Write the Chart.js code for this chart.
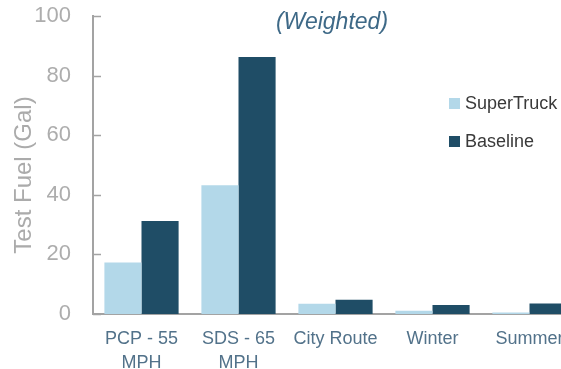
<!DOCTYPE html>
<html>
<head>
<meta charset="utf-8">
<script src="https://cdn.jsdelivr.net/npm/chart.js@4/dist/chart.umd.min.js"></script>
<style>
  html, body { margin: 0; padding: 0; background: #ffffff; overflow: hidden; }
  #wrap { width: 578px; height: 369px; }
</style>
</head>
<body>
<div id="wrap"><canvas id="c" width="578" height="369"></canvas></div>
<script>
// Test cycles and fuel used per cycle (gallons)
const categories = [['PCP - 55', 'MPH'], ['SDS - 65', 'MPH'], 'City Route', 'Winter', 'Summer'];
const superTruck = [17.3, 43.2, 3.4, 1.1, 0.5];
const baseline = [31.2, 86.2, 4.8, 3.0, 3.5];
const yTicks = [0, 20, 40, 60, 80, 100];

const FONT = '"Liberation Sans", Arial, sans-serif';
const AXIS_GRAY = '#a3a3a3';

// Subtitle, rotated y-axis title, inward tick marks and a free-floating legend
const decorations = {
  id: 'decorations',
  afterDraw(chart) {
    const ctx = chart.ctx;
    const area = chart.chartArea;
    const y = chart.scales.y;
    ctx.save();

    // inward ticks on the y axis
    ctx.strokeStyle = AXIS_GRAY;
    ctx.lineWidth = 1.5;
    yTicks.forEach(v => {
      const py = Math.round(y.getPixelForValue(v)) + 0.5;
      ctx.beginPath();
      ctx.moveTo(area.left, py);
      ctx.lineTo(area.left + 8, py);
      ctx.stroke();
    });

    // subtitle
    ctx.fillStyle = '#3e6987';
    ctx.font = 'italic 23px ' + FONT;
    ctx.textAlign = 'center';
    ctx.textBaseline = 'middle';
    ctx.fillText('(Weighted)', 332, 23);

    // y axis title
    ctx.save();
    ctx.translate(24, 175);
    ctx.rotate(-Math.PI / 2);
    ctx.fillStyle = '#ababab';
    ctx.font = '24px ' + FONT;
    ctx.fillText('Test Fuel (Gal)', 0, 0);
    ctx.restore();

    // legend
    ctx.font = '18px ' + FONT;
    ctx.textAlign = 'left';
    chart.data.datasets.forEach((ds, i) => {
      const ly = 103 + i * 38;
      ctx.fillStyle = ds.backgroundColor;
      ctx.fillRect(449, ly - 5, 11, 11);
      ctx.fillStyle = '#3a3a3a';
      ctx.fillText(ds.label, 465, ly + 1);
    });

    ctx.restore();
  }
};

new Chart(document.getElementById('c'), {
  type: 'bar',
  data: {
    labels: categories,
    datasets: [
      { label: 'SuperTruck', data: superTruck, backgroundColor: '#b3d8e9' },
      { label: 'Baseline', data: baseline, backgroundColor: '#1f4d66' }
    ]
  },
  options: {
    responsive: false,
    animation: false,
    devicePixelRatio: 1,
    layout: { padding: { top: 16, right: 0, left: 0, bottom: 0 } },
    categoryPercentage: 0.765,
    barPercentage: 1.0,
    plugins: {
      legend: { display: false },
      tooltip: { enabled: false },
      title: { display: false }
    },
    scales: {
      x: {
        afterFit(scale) {
          scale.height = 55;
          scale.paddingLeft = 0;
          scale.paddingRight = 0;
        },
        grid: { display: false, drawTicks: false },
        border: { display: true, color: AXIS_GRAY, width: 2 },
        ticks: {
          color: '#52728a',
          font: { family: FONT, size: 18, lineHeight: 1.33 },
          padding: 13,
          maxRotation: 0,
          autoSkip: false
        }
      },
      y: {
        min: 0,
        max: 100,
        afterFit(scale) {
          scale.width = 93;
          scale.paddingTop = 0;
          scale.paddingBottom = 0;
        },
        afterBuildTicks(scale) { scale.ticks = yTicks.map(v => ({ value: v })); },
        grid: { display: false, drawTicks: false },
        border: { display: true, color: AXIS_GRAY, width: 2 },
        ticks: {
          color: '#adadad',
          font: { family: FONT, size: 22 },
          padding: 22
        }
      }
    }
  },
  plugins: [decorations]
});
</script>
</body>
</html>
